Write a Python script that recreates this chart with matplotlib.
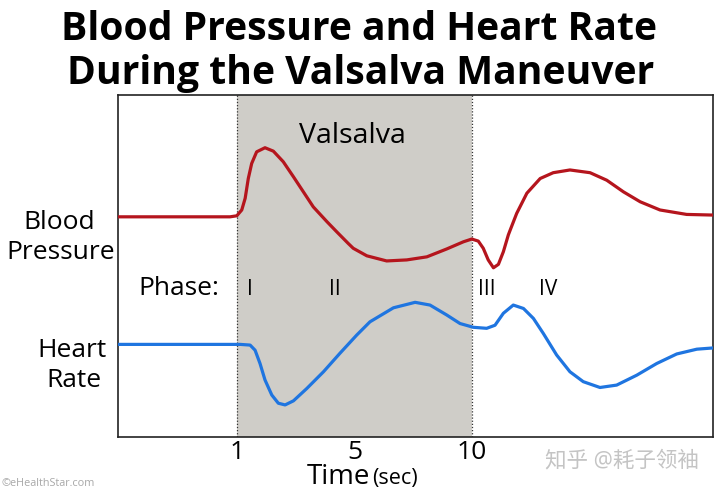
import matplotlib
matplotlib.use("Agg")
import matplotlib.pyplot as plt

plt.rcParams['font.family'] = ['Open Sans', 'Noto Sans CJK SC', 'DejaVu Sans']

# time (sec) and relative level (0-100)
bp_time = [-3.6, 0.73, 0.99, 1.18, 1.31, 1.43, 1.56, 1.75, 2.07, 2.39, 2.77, 3.16,
           3.54, 3.92, 4.44, 4.82, 5.26, 5.45, 5.97, 6.73, 7.50, 8.27, 9.03, 9.67,
           9.99, 10.24, 10.43, 10.62, 10.82, 11.01, 11.20, 11.39, 11.46, 11.71,
           12.10, 12.61, 13.11, 13.75, 14.52, 15.16, 15.80, 16.44, 17.20, 18.22, 19.3]
bp_level = [64.4, 64.4, 64.7, 66.4, 69.8, 75.6, 80.0, 83.4, 84.6, 83.6, 80.5, 76.1,
            71.7, 67.3, 63.0, 60.0, 56.6, 55.2, 53.0, 51.5, 51.8, 52.7, 55.0, 57.1,
            57.9, 57.3, 55.2, 51.8, 49.5, 50.5, 54.2, 59.1, 60.5, 65.4,
            71.3, 75.6, 77.3, 78.1, 77.3, 75.1, 71.7, 68.8, 66.4, 65.1, 64.9]

hr_time = [-3.6, 1.12, 1.50, 1.69, 1.88, 2.07, 2.33, 2.58, 2.84, 3.16, 3.67, 4.31,
           4.94, 5.58, 6.09, 6.99, 7.82, 8.39, 9.03, 9.54, 10.05, 10.56, 10.88,
           11.20, 11.58, 11.97, 12.35, 12.73, 13.24, 13.75, 14.26, 14.90, 15.54,
           16.31, 17.07, 17.84, 18.61, 19.3]
hr_level = [27.1, 27.1, 26.9, 25.4, 21.5, 16.7, 12.3, 9.9, 9.4, 10.6, 14.2, 19.1,
            24.5, 29.8, 33.7, 37.8, 39.4, 38.6, 35.7, 33.2, 32.1, 31.8, 32.7,
            36.2, 38.6, 37.6, 34.7, 30.3, 24.0, 19.1, 16.2, 14.5, 15.2,
            18.1, 21.5, 24.3, 25.7, 26.1]

valsalva_start = 1
valsalva_end = 10
tick_pos = [1, 5.5, 10]
tick_labels = ['1', '5', '10']
phase_names = ['I', 'II', 'III', 'IV']
phase_pos = [1.5, 4.75, 10.55, 12.9]

fig = plt.figure(figsize=(7.2, 4.9), dpi=100)
ax = fig.add_axes([0.1639, 0.108, 0.8264, 0.698])

ax.axvspan(valsalva_start, valsalva_end, color='#cfcdc8', lw=0, zorder=0)
for xv in (valsalva_start, valsalva_end):
    ax.axvline(xv, color='#333333', lw=0.9, ls=(0, (1, 1.5)), zorder=1)

ax.plot(bp_time, bp_level, color='#b5151d', lw=2.3, solid_joinstyle='round', zorder=3)
ax.plot(hr_time, hr_level, color='#1f75e0', lw=2.3, solid_joinstyle='round', zorder=3)

ax.set_xlim(-3.56, 19.23)
ax.set_ylim(0, 100)
ax.set_yticks([])
ax.set_xticks(tick_pos)
ax.set_xticklabels(tick_labels, fontsize=19)
ax.tick_params(axis='x', length=0, pad=2)
for s in ax.spines.values():
    s.set_linewidth(1.2)
    s.set_color('#222222')

ax.text(5.4, 86, 'Valsalva', fontsize=20.5, ha='center', va='baseline')
ax.text(0.3, 41.5, 'Phase:', fontsize=19, ha='right', va='baseline')
for name, px in zip(phase_names, phase_pos):
    ax.text(px, 41.5, name, fontsize=15, ha='center', va='baseline')

fig.text(59 / 720, 1 - 229 / 490, 'Blood', fontsize=19, ha='center', va='baseline')
fig.text(61 / 720, 1 - 259 / 490, 'Pressure', fontsize=19, ha='center', va='baseline')
fig.text(72 / 720, 1 - 357 / 490, 'Heart', fontsize=19, ha='center', va='baseline')
fig.text(74 / 720, 1 - 387 / 490, 'Rate', fontsize=19, ha='center', va='baseline')

fig.text(359 / 720, 1 - 40 / 490, 'Blood Pressure and Heart Rate', fontsize=28.2,
         fontweight='bold', ha='center', va='baseline')
fig.text(361 / 720, 1 - 84 / 490, 'During the Valsalva Maneuver', fontsize=28.2,
         fontweight='bold', ha='center', va='baseline')

fig.text(370 / 720, 1 - 484 / 490, 'Time', fontsize=20, ha='right', va='baseline')
fig.text(372 / 720, 1 - 484 / 490, '(sec)', fontsize=15.5, ha='left', va='baseline')

fig.text(2 / 720, 1 - 486 / 490, '©eHealthStar.com', fontsize=7.8, color='#a8a8a8',
         ha='left', va='baseline')
fig.text(622 / 720, 1 - 466 / 490, '知乎 @耗子领袖', fontsize=15.5, color='#c4c4c4',
         ha='center', va='baseline')

fig.savefig('out.png', dpi=100)
